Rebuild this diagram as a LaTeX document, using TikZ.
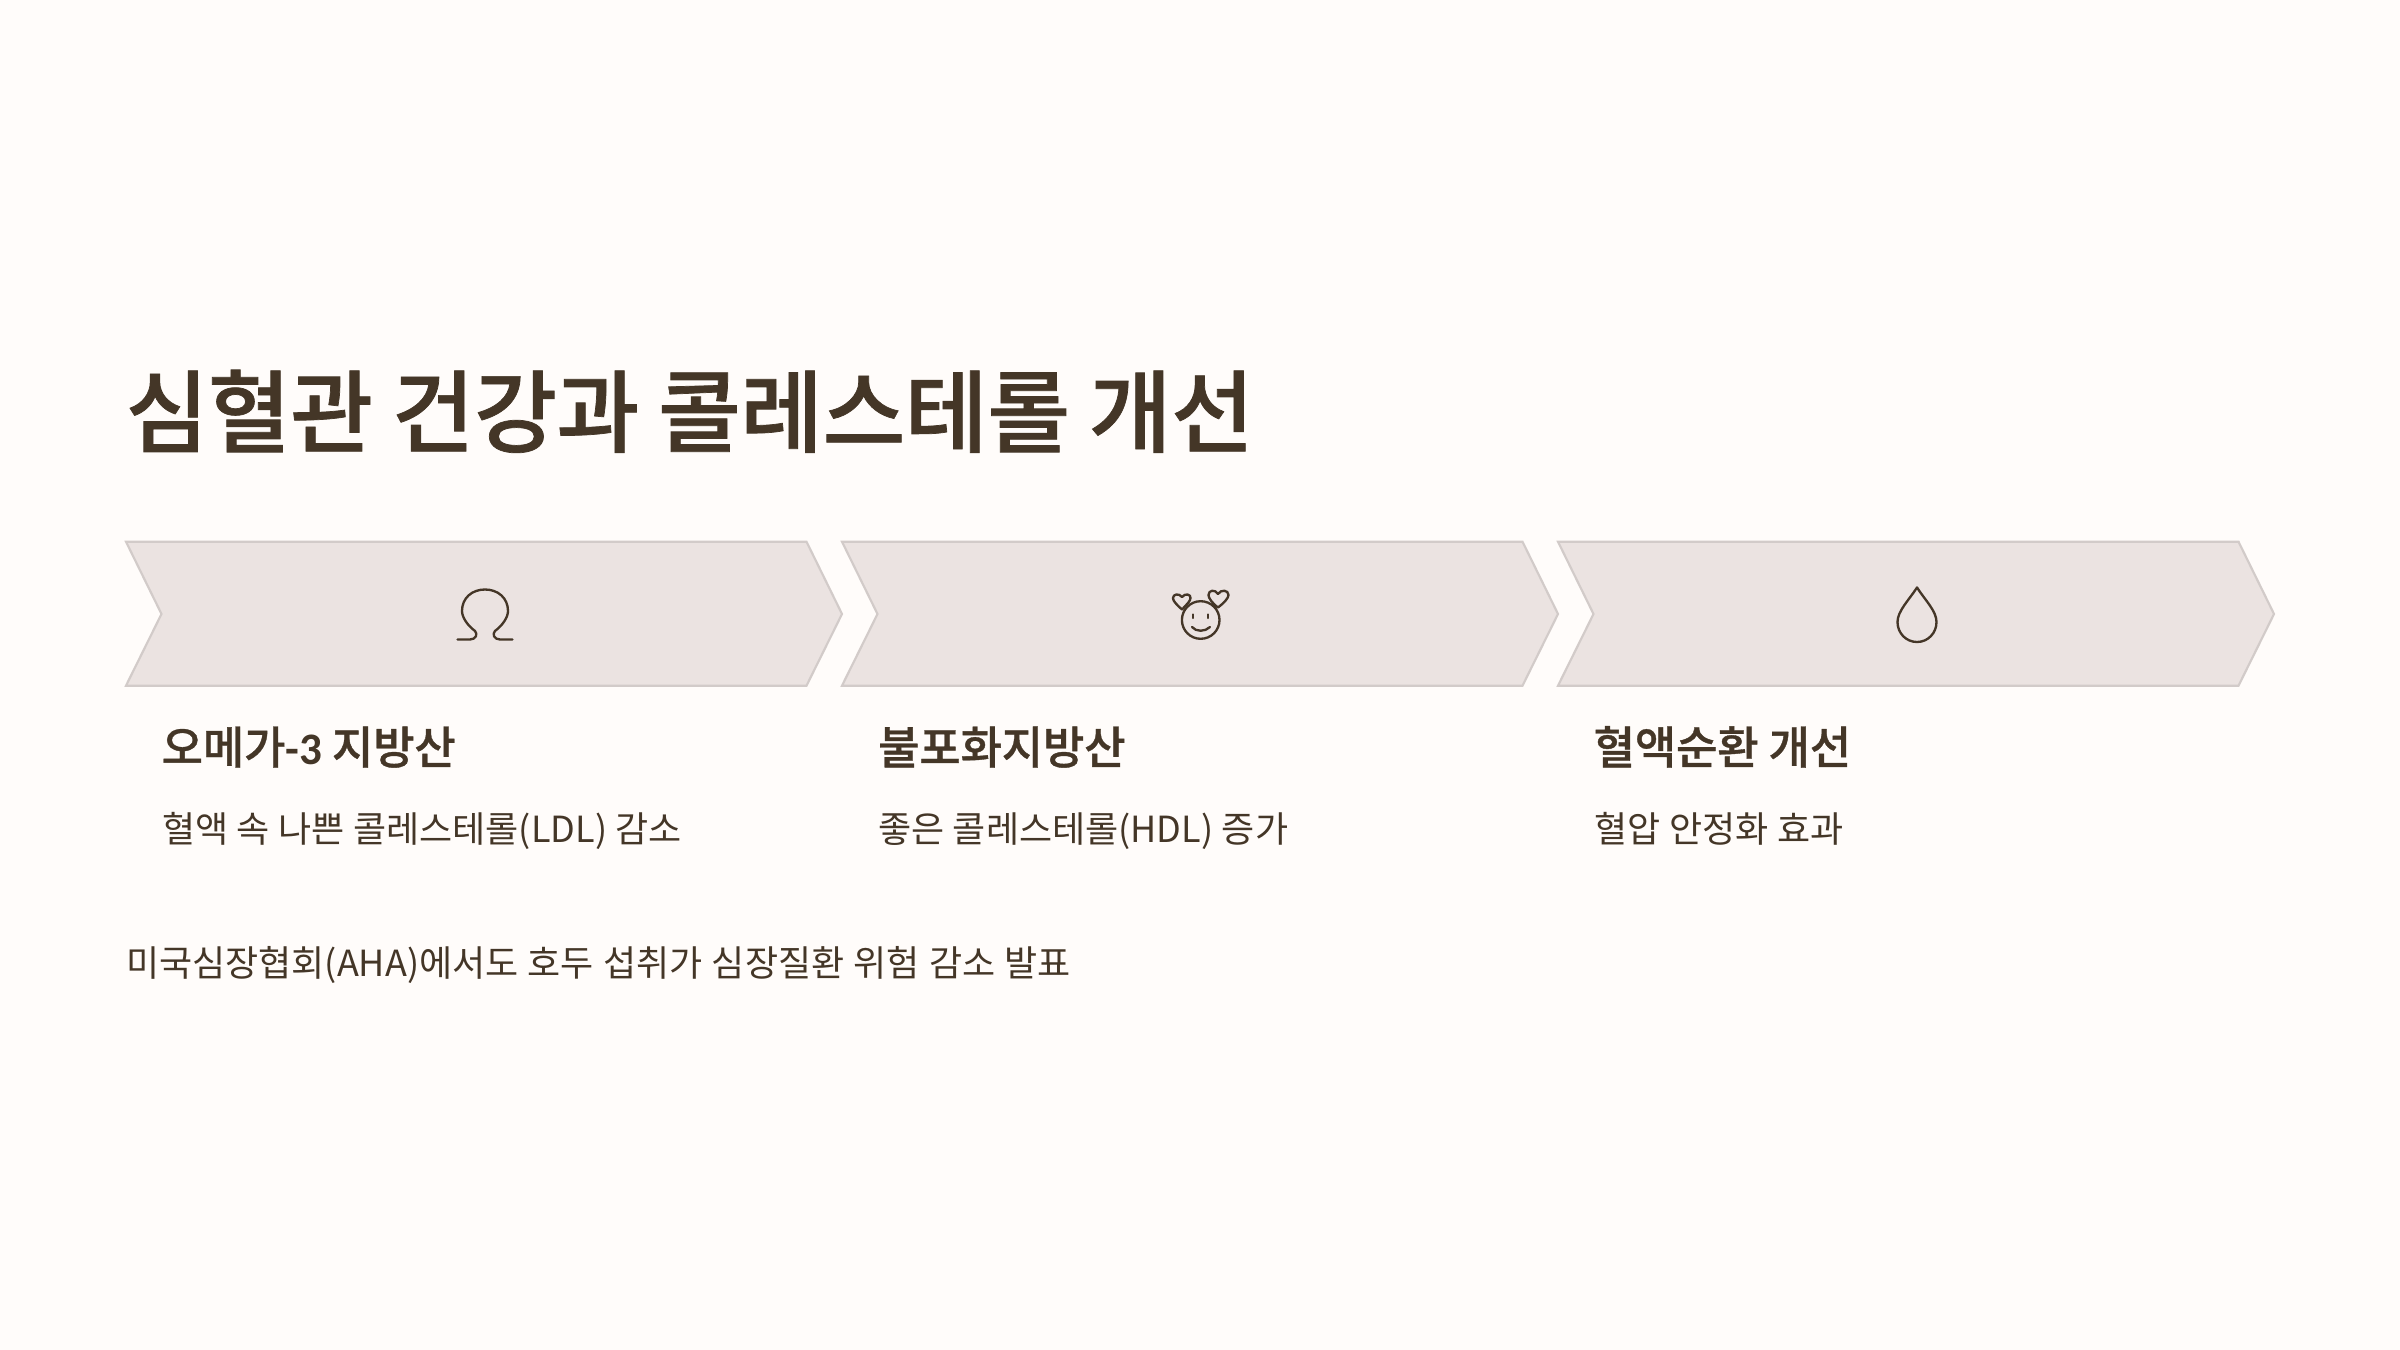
\documentclass[tikz,border=0pt]{standalone}
\usepackage{fontspec}
\setmainfont[WordSpace=1.15]{Noto Sans CJK KR}
\newfontfamily\krbody[WordSpace=1.06]{Noto Sans CJK KR}
\newfontfamily\krm[WordSpace=0.95,FakeBold=0.8,LetterSpace=-0.55]{Noto Sans CJK KR Medium}
\newfontfamily\krhead[WordSpace=1.0,FakeBold=0.8,LetterSpace=-0.45]{Noto Sans CJK KR Medium}
\newfontfamily\latb{Carlito Bold}
\definecolor{ink}{HTML}{443627}
\definecolor{bgc}{HTML}{FFFCFA}
\definecolor{chevfill}{HTML}{EBE3E1}
\definecolor{chevline}{HTML}{D2CBC9}
\tikzset{x=0.3pt,y=-0.3pt,
 chev/.style={fill=chevfill,draw=chevline,line width=0.65pt,line join=miter},
 icon/.style={draw=ink,line width=0.7pt,line cap=round,line join=round},
 titletext/.style={anchor=base west,inner sep=0,text=ink,font=\fontsize{27pt}{30pt}\krm},
 headtext/.style={anchor=base west,inner sep=0,text=ink,font=\fontsize{13.5pt}{15pt}\krhead},
 bodytext/.style={anchor=base west,inner sep=0,text=ink,font=\fontsize{10.8pt}{13pt}\krbody},
 foottext/.style={anchor=base west,inner sep=0,text=ink,font=\fontsize{10.8pt}{13pt}\selectfont}}
\begin{document}
\begin{tikzpicture}
\useasboundingbox (0,0) rectangle (2400,1350);
\fill[bgc] (0,0) rectangle (2400,1350);
\foreach \o in {0,716,1432}{
 \draw[chev,shift={(\o,0)}] (126,541.7) -- (806.5,541.7) -- (842,614) -- (806.5,685.7) -- (126,685.7) -- (161.5,614) -- cycle;}
\node[titletext] (title) at (125,445.5) {심혈관 건강과 콜레스테롤 개선};
\node[headtext] (h1) at (161,764) {오메가{\latb\fontsize{13.5pt}{15pt}\selectfont -3} 지방산};
\node[headtext] (h2) at (877.5,764) {불포화지방산};
\node[headtext] (h3) at (1593,764) {혈액순환 개선};
\node[bodytext] (b1) at (161.5,842.5) {혈액 속 나쁜 콜레스테롤(LDL) 감소};
\node[bodytext] (b2) at (877.5,842.5) {좋은 콜레스테롤(HDL) 증가};
\node[bodytext] (b3) at (1594,842.5) {혈압 안정화 효과};
\node[foottext] (foot) at (125.5,976) {미국심장협회(AHA)에서도 호두 섭취가 심장질환 위험 감소 발표};
% omega
\draw[icon] (457.5,639.5) -- (470,639.5) .. controls (476,639.5) and (478,634) .. (475,631) .. controls (467,625) and (462,617) .. (462,611) .. controls (462,598) and (472,589.5) .. (485,589.5) .. controls (498,589.5) and (508,598) .. (508,611) .. controls (508,617) and (503,625) .. (495,631) .. controls (492,634) and (494,639.5) .. (500,639.5) -- (512.5,639.5);
% smile
\draw[icon] (1200.7,620) circle (18.8);
\draw[icon] (1193,614.5) -- (1193,618);
\draw[icon] (1208,614.5) -- (1208,618);
\draw[icon] (1192,627) .. controls (1196,632) and (1205,632) .. (1210,627);
\draw[icon] (1182,609.5) .. controls (1176,604) and (1173,601) .. (1173,598) .. controls (1173,594) and (1179,593) .. (1182,597) .. controls (1185,593) and (1191,594) .. (1190.5,598) .. controls (1190.5,601) and (1187,604) .. (1182,609.5);
\draw[icon] (1218,607.5) .. controls (1212,603) and (1208.5,598) .. (1208.5,595) .. controls (1208.5,590) and (1215,589) .. (1218,594) .. controls (1221,589) and (1228.5,590) .. (1228.5,595) .. controls (1228.5,598) and (1224,603) .. (1218,607.5);
% drop
\draw[icon] (1917,587.5) .. controls (1909,600) and (1897.5,611) .. (1897.5,622) .. controls (1897.5,633) and (1906,642) .. (1917,642) .. controls (1928,642) and (1936.5,633) .. (1936.5,622) .. controls (1936.5,611) and (1925,600) .. (1917,587.5) -- cycle;
\end{tikzpicture}
\end{document}
